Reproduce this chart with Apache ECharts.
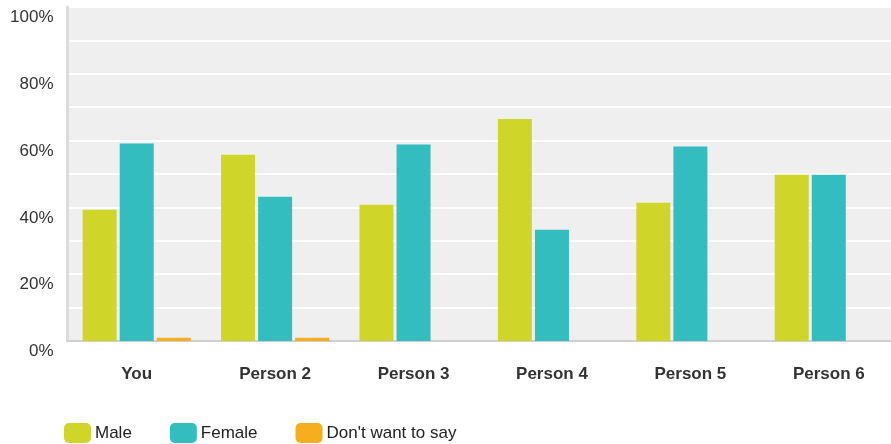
<!DOCTYPE html>
<html>
<head>
<meta charset="utf-8">
<script src="https://cdn.jsdelivr.net/npm/echarts@6/dist/echarts.min.js"></script>
<style>
html,body{margin:0;padding:0;background:#fff;overflow:hidden;width:891px;height:444px;}
#chart{width:898px;height:444px;}
</style>
</head>
<body>
<div id="chart"></div>
<script>
var categories = ['You', 'Person 2', 'Person 3', 'Person 4', 'Person 5', 'Person 6'];
var seriesNames = ['Male', 'Female', "Don't want to say"];
var maleValues = [39.3, 55.8, 40.8, 66.5, 41.4, 49.8];
var femaleValues = [59.1, 43.2, 58.8, 33.3, 58.2, 49.8];
var dontSayValues = [1, 1, 0, 0, 0, 0];
var colors = ['#d0d52a', '#33bdbe', '#f6ad1e'];

var chart = echarts.init(document.getElementById('chart'));
var fontFam = '"Liberation Sans", Arial, sans-serif';
function bar(name, data, color) {
  return {
    name: name, type: 'bar', data: data, barWidth: 34, barGap: '9%',
    itemStyle: { color: color }
  };
}
chart.setOption({
  animation: false,
  color: colors,
  grid: {
    left: 67.5, right: 0, top: 7, bottom: 103,
    show: true, backgroundColor: '#efefef', borderWidth: 0
  },
  legend: {
    left: 64, top: 423, padding: 0, itemWidth: 27, itemHeight: 20, itemGap: 38,
    icon: 'roundRect',
    textStyle: { fontSize: 17, color: '#222', fontFamily: fontFam, padding: [0, 0, 0, -1] },
    data: seriesNames
  },
  xAxis: {
    type: 'category', data: categories,
    axisLine: { show: true, lineStyle: { color: '#cfcfcf', width: 2 } },
    axisTick: { show: false },
    axisLabel: { fontSize: 17, fontWeight: 'bold', color: '#333', fontFamily: fontFam, margin: 25 }
  },
  yAxis: {
    type: 'value', min: 0, max: 100, interval: 10,
    axisLine: { show: true, lineStyle: { color: '#dcdcdc', width: 3 } },
    axisTick: { show: false },
    splitLine: { show: true, lineStyle: { color: '#ffffff', width: 2 } },
    axisLabel: {
      fontSize: 17, color: '#333', fontFamily: fontFam, margin: 14,
      verticalAlign: 'top', padding: [2, 0, 0, 0],
      formatter: function (v) { return v % 20 === 0 ? v + '%' : ''; }
    }
  },
  series: [
    bar(seriesNames[0], maleValues, colors[0]),
    bar(seriesNames[1], femaleValues, colors[1]),
    bar(seriesNames[2], dontSayValues, colors[2])
  ]
});
</script>
</body>
</html>
